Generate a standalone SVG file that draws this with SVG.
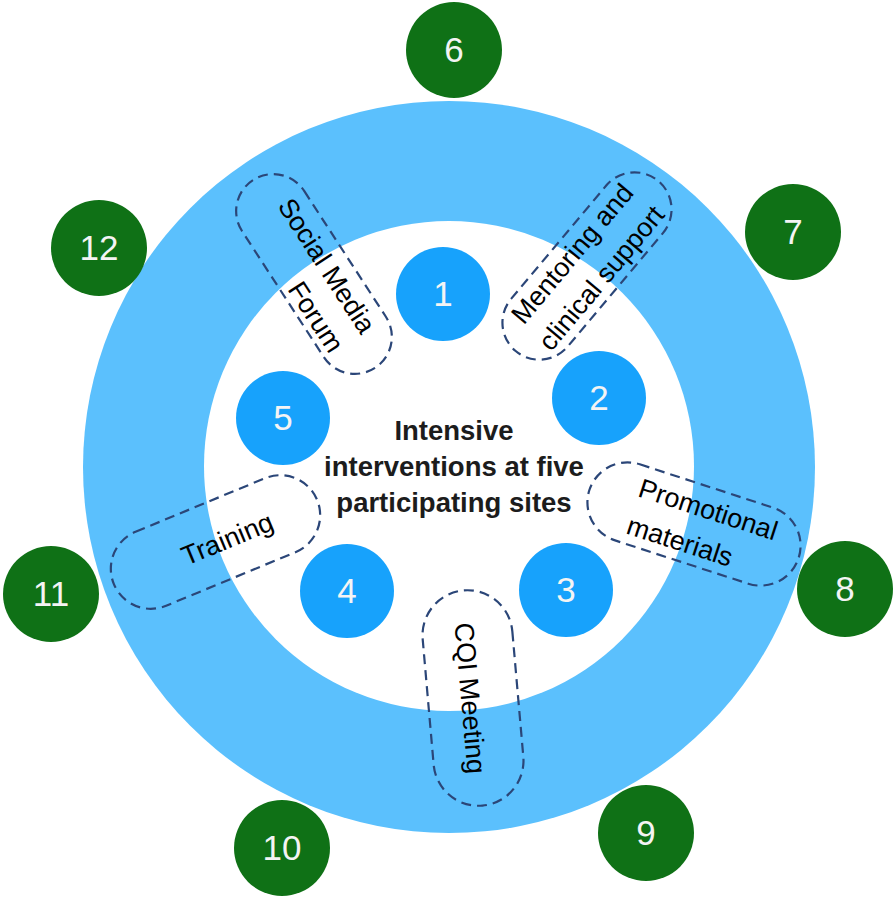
<svg xmlns="http://www.w3.org/2000/svg" width="896" height="901" viewBox="0 0 896 901">
  <style>
    .green { fill: #0f7116; }
    .blue { fill: #17a2fc; }
    .num { font-family: "Liberation Sans", Arial, sans-serif; font-size: 35px; fill: #f4f4f4; text-anchor: middle; }
    .cap { fill: none; stroke: #2b4678; stroke-width: 2.2; stroke-dasharray: 10 6; }
    .lbl { font-family: "Liberation Sans", Arial, sans-serif; font-size: 27px; fill: #000; text-anchor: middle; dominant-baseline: central; }
    .ctr { font-family: "Liberation Sans", Arial, sans-serif; font-size: 27.5px; font-weight: bold; fill: #1c1c1c; text-anchor: middle; }
  </style>
  <rect width="896" height="901" fill="#ffffff"/>

  <g id="ring">
    <circle cx="449" cy="467" r="366" fill="#5bc0fd"/>
    <circle cx="449" cy="466" r="245" fill="#ffffff"/>
  </g>

  <g id="center-label">
    <text class="ctr" x="454" y="440">Intensive</text>
    <text class="ctr" x="454" y="476">interventions at five</text>
    <text class="ctr" x="454" y="512">participating sites</text>
  </g>

  <g id="site-1"><circle class="blue" cx="443" cy="294" r="47"/><text class="num" x="443" y="306">1</text></g>
  <g id="site-2"><circle class="blue" cx="599" cy="398" r="47"/><text class="num" x="599" y="410">2</text></g>
  <g id="site-3"><circle class="blue" cx="566" cy="590" r="47"/><text class="num" x="566" y="602">3</text></g>
  <g id="site-4"><circle class="blue" cx="347" cy="591" r="47"/><text class="num" x="347" y="603">4</text></g>
  <g id="site-5"><circle class="blue" cx="283" cy="418" r="47"/><text class="num" x="283" y="430">5</text></g>

  <g id="site-6"><circle class="green" cx="454" cy="50" r="48"/><text class="num" x="454" y="62">6</text></g>
  <g id="site-7"><circle class="green" cx="793" cy="232" r="48"/><text class="num" x="793" y="244">7</text></g>
  <g id="site-8"><circle class="green" cx="845" cy="589" r="48"/><text class="num" x="845" y="601">8</text></g>
  <g id="site-9"><circle class="green" cx="646" cy="833" r="48"/><text class="num" x="646" y="845">9</text></g>
  <g id="site-10"><circle class="green" cx="282" cy="848" r="48"/><text class="num" x="282" y="860">10</text></g>
  <g id="site-11"><circle class="green" cx="51" cy="594" r="48"/><text class="num" x="51" y="606">11</text></g>
  <g id="site-12"><circle class="green" cx="99" cy="248" r="48"/><text class="num" x="99" y="260">12</text></g>

  <g id="social-media-forum" transform="translate(314 274) rotate(57)">
    <rect class="cap" x="-112" y="-37" width="224" height="74" rx="37"/>
    <text class="lbl" x="0" y="-15">Social Media</text>
    <text class="lbl" x="37" y="22">Forum</text>
  </g>

  <g id="mentoring" transform="translate(587 266) rotate(-50)">
    <rect class="cap" x="-111" y="-37" width="222" height="74" rx="37"/>
    <text class="lbl" x="0" y="-19">Mentoring and</text>
    <text class="lbl" x="0" y="19">clinical support</text>
  </g>

  <g id="promotional" transform="translate(694 524) rotate(18)">
    <rect class="cap" x="-110" y="-40" width="220" height="80" rx="40"/>
    <text class="lbl" x="9" y="-18">Promotional</text>
    <text class="lbl" x="-8" y="21">materials</text>
  </g>

  <g id="training" transform="translate(215.5 542) rotate(-22.5)">
    <rect class="cap" x="-110" y="-40" width="220" height="80" rx="40"/>
    <text class="lbl" x="12" y="2">Training</text>
  </g>

  <g id="cqi-meeting" transform="translate(473 698) rotate(85)">
    <rect class="cap" x="-108" y="-45" width="216" height="90" rx="45"/>
    <text class="lbl" x="0" y="3">CQI Meeting</text>
  </g>

  <g id="connectors"></g>
</svg>
